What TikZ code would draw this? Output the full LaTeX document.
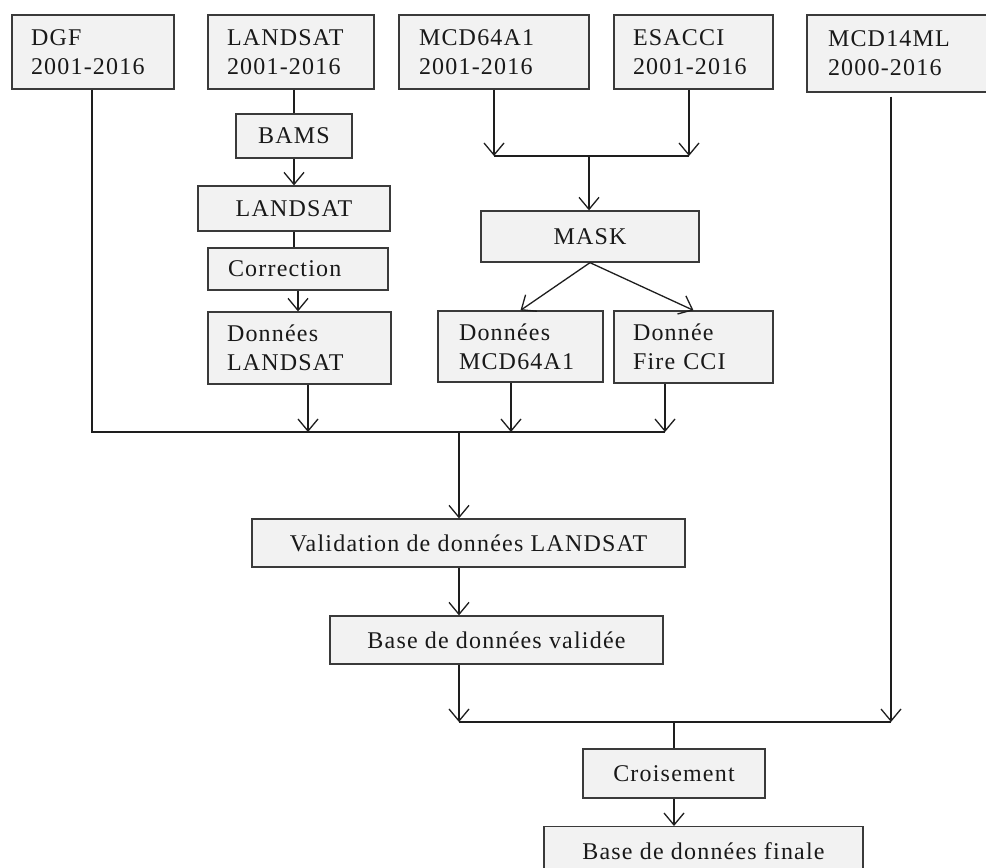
\documentclass[tikz,border=0pt]{standalone}
\usepackage{fontspec}
\setmainfont{Liberation Serif}[LetterSpace=5]
\usetikzlibrary{arrows.meta}
\definecolor{boxfill}{HTML}{F2F2F2}
\definecolor{boxline}{HTML}{3A3A3A}
\definecolor{conn}{HTML}{1E1E1E}
\begin{document}
\begin{tikzpicture}[x=1pt,y=-1pt,
  base/.style={draw=boxline, fill=boxfill, line width=1.3pt, inner sep=0pt,
    text=black!90, font=\fontsize{24}{29}\selectfont},
  lbox/.style={base, align=left},
  cbox/.style={base, align=center},
  ln/.style={draw=conn, line width=1.3pt},
  arr/.style={ln, -{Straight Barb[length=12pt,width=20pt,line width=1.3pt]}}
]
\clip (0,0) rectangle (986,868);
\fill[white] (0,0) rectangle (986,868);

% top row
\node[lbox, minimum width=162pt, minimum height=74pt, text width=124pt] (dgf) at (93,52) {DGF\\2001-2016};
\node[lbox, minimum width=166pt, minimum height=74pt, text width=128pt] (ls1) at (291,52) {LANDSAT\\2001-2016};
\node[lbox, minimum width=190pt, minimum height=74pt, text width=150pt] (mcd) at (494,52) {MCD64A1\\2001-2016};
\node[lbox, minimum width=159pt, minimum height=74pt, text width=121pt] (esa) at (693.5,52) {ESACCI\\2001-2016};
\node[lbox, minimum width=185pt, minimum height=77pt, text width=143pt] (m14) at (899.5,53.5) {MCD14ML\\2000-2016};

% landsat chain
\node[cbox, minimum width=116pt, minimum height=44pt] (bams) at (294,136) {BAMS};
\node[cbox, minimum width=192pt, minimum height=45pt] (ls2) at (294,208.5) {LANDSAT};
\node[lbox, minimum width=180pt, minimum height=42pt, text width=140pt] (corr) at (298,269) {Correction};
\node[lbox, minimum width=183pt, minimum height=72pt, text width=145pt] (dls) at (299.5,348) {Données\\LANDSAT};

% mask chain
\node[cbox, minimum width=218pt, minimum height=51pt] (mask) at (590,236.5) {MASK};
\node[lbox, minimum width=165pt, minimum height=71pt, text width=123pt] (dmcd) at (520.5,346.5) {Données\\MCD64A1};
\node[lbox, minimum width=159pt, minimum height=72pt, text width=121pt] (dfire) at (693.5,347) {Donnée\\Fire CCI};

% lower chain
\node[cbox, minimum width=433pt, minimum height=48pt] (valid) at (468.5,543) {Validation de données LANDSAT};
\node[cbox, minimum width=333pt, minimum height=48pt] (basev) at (496.5,640) {Base de données validée};
\node[cbox, minimum width=182pt, minimum height=49pt] (crois) at (674,773.5) {Croisement};
\node[cbox, minimum width=319pt, minimum height=50pt, anchor=north] (final) at (703.5,826) {Base de données finale};

% junction coordinates
\coordinate (jm1) at (494,156);
\coordinate (jm2) at (689,156);
\coordinate (jm) at (589,156);
\coordinate (ja0) at (92,432);
\coordinate (ja1) at (308,432);
\coordinate (ja2) at (511,432);
\coordinate (ja3) at (665,432);
\coordinate (ja) at (459,432);
\coordinate (jb0) at (459,722);
\coordinate (jb1) at (891,722);
\coordinate (jb) at (674,722);

% connectors landsat
\draw[ln] (ls1.south -| bams.north) -- (bams.north);
\draw[arr] (bams.south) -- (ls2.north);
\draw[ln] (ls2.south) -- (ls2.south |- corr.north);
\draw[arr] (corr.south) -- (corr.south |- dls.north);

% connectors mask
\draw[arr] (mcd.south -| jm1) -- (jm1);
\draw[arr] (esa.south -| jm2) -- (jm2);
\draw[ln] (jm1) -- (jm2);
\draw[arr] (jm) -- (jm |- mask.north);
\draw[arr] (mask.south) -- (dmcd.north);
\draw[arr] (mask.south) -- (dfire.north);

% to validation
\draw[ln] (dgf.south -| ja0) -- (ja0) -- (ja3);
\draw[arr] (dls.south -| ja1) -- (ja1);
\draw[arr] (dmcd.south -| ja2) -- (ja2);
\draw[arr] (dfire.south -| ja3) -- (ja3);
\draw[arr] (ja) -- (ja |- valid.north);
\draw[arr] (valid.south -| ja) -- (basev.north -| ja);

% to croisement
\draw[arr] (basev.south -| jb0) -- (jb0);
\draw[arr] ([yshift=-4pt]m14.south -| jb1) -- (jb1);
\draw[ln] (jb0) -- (jb1);
\draw[ln] (jb) -- (crois.north);
\draw[arr] (crois.south) -- (crois.south |- final.north);
\end{tikzpicture}
\end{document}
